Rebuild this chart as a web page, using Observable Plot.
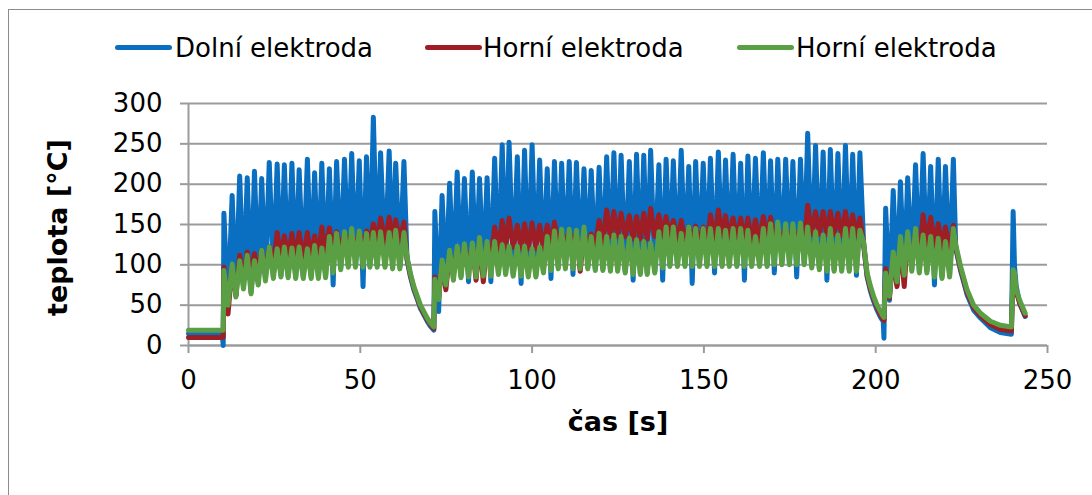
<!DOCTYPE html>
<html>
<head>
<meta charset="utf-8">
<script src="https://cdn.jsdelivr.net/npm/d3@7"></script>
<script src="https://cdn.jsdelivr.net/npm/@observablehq/plot@0.6"></script>
<style>
  html, body { margin: 0; padding: 0; background: #fff; overflow: hidden; }
  body { width: 1092px; height: 495px; position: relative; font-family: "DejaVu Sans", Verdana, sans-serif; }
  #legend { position: absolute; left: 0; top: 0; width: 1092px; height: 85px; }
  .swatch { position: absolute; top: 45px; height: 5px; border-radius: 2.5px; }
  .label { position: absolute; top: 33px; font-size: 26px; line-height: normal; color: #000; white-space: nowrap; }
  #chart { position: absolute; left: 0; top: 85px; }
  #frame { position: absolute; left: 8px; top: 9px; width: 1100px; height: 500px; border: 1px solid #8c8c8c; box-sizing: border-box; pointer-events: none; }
</style>
</head>
<body>
<div id="legend"></div>
<div id="chart"></div>
<div id="frame"></div>
<script>
// Series names and colours
const seriesNames = ["Dolní elektroda", "Horní elektroda", "Horní elektroda"];
const seriesColors = ["#0a6fc1", "#9e1e25", "#5b9f45"];

// Axis ticks
const xTicks = [0, 50, 100, 150, 200, 250];
const yTicks = [0, 50, 100, 150, 200, 250, 300];

// Run 1: idle, first welding run (pulse peak / valley pairs) and cooling
const timeA = [0, 9.8, 10.1,
  10.3, 11.5, 12.7, 13.8, 14.9, 16.0, 17.1, 18.2, 19.2, 20.3,
  21.3, 22.4, 23.5, 24.7, 25.8, 26.9, 27.9, 29.0, 30.1, 31.2,
  32.2, 33.4, 34.6, 35.7, 36.7, 37.8, 38.8, 39.9, 41.0, 42.1,
  43.1, 44.3, 45.4, 46.5, 47.5, 48.6, 49.7, 50.8, 51.8, 52.8,
  53.8, 54.9, 55.9, 57.2, 58.4, 59.4, 60.3, 61.5, 62.7,
  63.6, 64.6, 65.6, 66.6, 67.5, 68.5, 69.5, 70.4, 71.4];
const dolniA = [15, 15, 0,
  164, 46, 186, 62, 210, 72, 208, 66, 216, 77,
  207, 82, 227, 85, 225, 87, 224, 86, 226, 85,
  218, 85, 231, 85, 214, 85, 226, 86, 219, 75,
  228, 96, 231, 99, 238, 99, 229, 73, 234, 99,
  283, 99, 239, 99, 241, 97, 226, 97, 228,
  106, 85, 69, 57, 46, 38, 30, 24, 19];
const horniA = [10, 10, 10,
  97, 39, 100, 62, 112, 80, 116, 85, 114, 88,
  118, 90, 122, 100, 140, 108, 136, 108, 139, 108,
  140, 108, 140, 108, 136, 110, 147, 115, 146, 118,
  141, 118, 139, 120, 140, 120, 139, 120, 142, 125,
  151, 128, 158, 128, 159, 128, 156, 128, 153,
  108, 87, 71, 59, 48, 40, 32, 26, 21];
const horni2A = [19, 19, 19,
  93, 50, 101, 60, 105, 70, 112, 64, 105, 75,
  118, 80, 122, 83, 120, 85, 122, 84, 121, 83,
  122, 83, 120, 83, 124, 83, 121, 84, 135, 90,
  139, 94, 141, 97, 145, 97, 142, 97, 139, 97,
  140, 97, 141, 97, 140, 95, 143, 95, 140,
  110, 89, 73, 61, 50, 42, 34, 28, 23];

// Run 2: long welding run and cooling
const timeB = [
  71.7, 72.8, 73.8, 74.9, 76.0, 77.1, 78.2, 79.3, 80.3, 81.5,
  82.6, 83.7, 84.7, 85.8, 86.9, 88.0, 89.1, 90.2, 91.3, 92.3,
  93.3, 94.5, 95.7, 96.8, 97.8, 98.9, 100.0, 101.1, 102.2, 103.3,
  104.4, 105.5, 106.5, 107.6, 108.6, 109.7, 110.8, 111.9, 112.9, 114.0,
  115.1, 116.2, 117.2, 118.4, 119.5, 120.6, 121.7, 122.8, 123.8, 124.9,
  125.9, 127.1, 128.3, 129.4, 130.4, 131.5, 132.5, 133.5, 134.5, 135.7,
  136.9, 138.0, 139.0, 140.1, 141.1, 142.3, 143.4, 144.5, 145.6, 146.6,
  147.6, 148.7, 149.8, 150.9, 151.9, 153.1, 154.2, 155.3, 156.3, 157.4,
  158.5, 159.6, 160.7, 161.8, 162.8, 163.9, 165.0, 166.2, 167.3, 168.4,
  169.4, 170.5, 171.5, 172.7, 173.8, 174.9, 175.9, 177.0, 178.1, 179.2,
  180.2, 181.4, 182.5, 183.6, 184.7, 185.8, 186.8, 187.9, 189.0, 190.1,
  191.2, 192.3, 193.3, 194.4, 195.4,
  196.5, 197.5, 198.5, 199.4, 200.4, 201.4, 202.2, 202.4];
const dolniB = [
  166, 42, 186, 77, 201, 83, 215, 86, 207, 79,
  215, 87, 207, 88, 208, 79, 232, 90, 249, 90,
  252, 88, 234, 77, 242, 87, 249, 87, 230, 92,
  219, 83, 228, 97, 226, 97, 228, 88, 227, 97,
  219, 97, 217, 95, 221, 95, 234, 94, 239, 94,
  236, 92, 228, 81, 237, 90, 236, 90, 242, 92,
  224, 81, 231, 100, 229, 100, 242, 100, 222, 77,
  228, 100, 226, 100, 232, 90, 240, 100, 230, 100,
  237, 100, 226, 81, 235, 100, 232, 100, 239, 100,
  229, 90, 231, 102, 231, 102, 228, 85, 231, 102,
  263, 98, 248, 96, 240, 81, 243, 94, 238, 94,
  248, 94, 237, 87, 239,
  124, 85, 67, 55, 44, 35, 30, 9];
const horniB = [
  85, 60, 103, 69, 115, 88, 120, 95, 123, 100,
  124, 81, 131, 79, 126, 105, 147, 118, 155, 122,
  158, 122, 149, 120, 151, 120, 152, 120, 149, 120,
  149, 125, 153, 125, 141, 125, 140, 125, 141, 92,
  140, 125, 138, 125, 155, 128, 168, 135, 166, 135,
  164, 135, 161, 132, 160, 132, 164, 132, 170, 135,
  162, 135, 160, 132, 155, 130, 155, 130, 147, 128,
  148, 125, 147, 125, 162, 130, 168, 135, 161, 132,
  158, 130, 158, 130, 158, 130, 156, 130, 160, 130,
  159, 130, 147, 128, 146, 128, 146, 128, 146, 128,
  174, 138, 166, 138, 166, 138, 166, 138, 164, 136,
  166, 136, 162, 135, 158,
  126, 87, 70, 58, 47, 38, 32, 31];
const horni2B = [
  82, 57, 106, 75, 118, 81, 123, 84, 126, 85,
  127, 85, 134, 86, 129, 86, 129, 88, 125, 88,
  123, 86, 123, 86, 123, 85, 120, 85, 122, 90,
  135, 93, 142, 95, 144, 95, 144, 95, 143, 95,
  147, 95, 135, 93, 139, 93, 135, 92, 137, 92,
  135, 90, 133, 88, 131, 88, 129, 88, 127, 90,
  141, 96, 147, 98, 147, 98, 139, 98, 147, 98,
  145, 98, 145, 98, 145, 98, 145, 98, 143, 98,
  145, 98, 145, 98, 143, 98, 135, 98, 145, 98,
  151, 100, 153, 100, 151, 100, 151, 100, 152, 100,
  147, 96, 141, 94, 137, 92, 145, 92, 137, 92,
  145, 92, 145, 92, 143,
  128, 90, 73, 61, 50, 42, 36, 35];

// Run 3: short welding run, cooling and a final single pulse
const timeC = [
  202.9, 204.0, 205.1, 206.2, 207.2, 208.3, 209.3, 210.5, 211.6, 212.7,
  213.8, 214.9, 216.0, 217.1, 218.2, 219.3, 220.3, 221.5, 222.6,
  223.3, 224.7, 226.6, 228.5, 230.5, 233.4, 236.3, 239.5,
  240.0, 240.4, 240.9, 241.9, 243.5];
const dolniC = [
  170, 56, 192, 75, 203, 80, 208, 94, 224, 92,
  238, 92, 222, 75, 231, 85, 222, 87, 231,
  120, 93, 63, 44, 34, 22, 16, 14,
  166, 98, 73, 52, 36];
const horniC = [
  95, 59, 112, 73, 130, 73, 135, 100, 141, 110,
  162, 125, 159, 125, 151, 120, 147, 118, 149,
  122, 95, 66, 47, 37, 26, 20, 18,
  90, 86, 66, 53, 37];
const horni2C = [
  90, 61, 116, 79, 135, 87, 141, 92, 145, 90,
  137, 90, 135, 85, 133, 83, 129, 85, 145,
  125, 98, 69, 50, 40, 30, 25, 23,
  94, 90, 69, 56, 40];

// Join the runs into one record table
const time = [...timeA, ...timeB, ...timeC];
const dolni = [...dolniA, ...dolniB, ...dolniC];
const horni = [...horniA, ...horniB, ...horniC];
const horni2 = [...horni2A, ...horni2B, ...horni2C];
const rows = time.map((t, i) => ({t, dolni: dolni[i], horni: horni[i], horni2: horni2[i]}));
const keys = ["dolni", "horni", "horni2"];

// Legend above the plot
const legendPos = [{line: 115, text: 175}, {line: 425, text: 483}, {line: 737, text: 796}];
const legend = document.getElementById("legend");
seriesNames.forEach((name, i) => {
  const sw = document.createElement("div");
  sw.className = "swatch";
  sw.style.left = legendPos[i].line + "px";
  sw.style.width = "57px";
  sw.style.background = seriesColors[i];
  legend.appendChild(sw);
  const lb = document.createElement("div");
  lb.className = "label";
  lb.style.left = legendPos[i].text + "px";
  lb.textContent = name;
  legend.appendChild(lb);
});

const gridColor = "#9b9b9b";
const chart = Plot.plot({
  width: 1092,
  height: 410,
  marginTop: 18,
  marginBottom: 150,
  marginLeft: 188,
  marginRight: 45,
  style: {fontFamily: "DejaVu Sans, Verdana, sans-serif", fontSize: "26px", background: "transparent", overflow: "visible"},
  x: {domain: [0, 250]},
  y: {domain: [0, 300]},
  marks: [
    Plot.gridY(yTicks, {stroke: gridColor, strokeOpacity: 1, strokeWidth: 2}),
    Plot.ruleX([0], {stroke: gridColor, strokeWidth: 2}),
    Plot.ruleY([0], {stroke: gridColor, strokeWidth: 2}),
    Plot.axisY(yTicks, {tickSize: 8, tickPadding: 18, label: null, stroke: gridColor, strokeWidth: 2, fill: "#000"}),
    Plot.axisX(xTicks, {tickSize: 8, tickPadding: 17, label: null, stroke: gridColor, strokeWidth: 2, fill: "#000"}),
    ...keys.map((k, i) => Plot.line(rows, {
      x: "t", y: k, stroke: seriesColors[i], strokeWidth: 5,
      strokeLinejoin: "round", strokeLinecap: "round"
    })),
    Plot.text(["čas [s]"], {text: d => d, frameAnchor: "bottom", lineAnchor: "middle", textAnchor: "middle", dy: 77, fontSize: 27, fontWeight: "bold", fill: "#000"}),
    Plot.text(["teplota [°C]"], {text: d => d, frameAnchor: "left", lineAnchor: "middle", textAnchor: "middle", dx: -130, dy: 3, rotate: -90, fontSize: 27, fontWeight: "bold", fill: "#000"})
  ]
});
document.getElementById("chart").appendChild(chart);
</script>
</body>
</html>
